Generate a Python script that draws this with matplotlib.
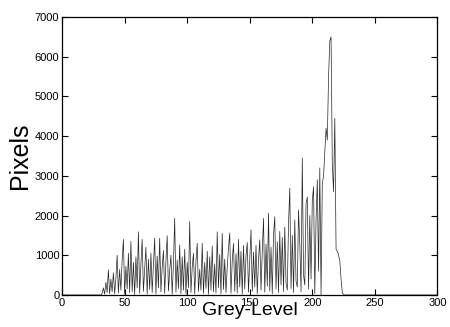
import numpy as np
import matplotlib
matplotlib.use("Agg")
import matplotlib.pyplot as plt

# grey-level histogram, counts for levels 30..225
first_level = 30
pixel_counts = [
    0, 0, 40, 180, 20, 320, 60, 630, 30, 400,
    80, 560, 30, 420, 1000, 50, 640, 120, 880, 1400,
    20, 720, 150, 1050, 60, 1350, 80, 820, 10, 960,
    180, 1590, 40, 780, 1400, 90, 650, 1200, 20, 900,
    140, 1050, 60, 720, 1430, 30, 980, 180, 1430, 80,
    700, 1120, 40, 860, 1490, 100, 620, 1000, 20, 780,
    1930, 70, 880, 160, 1260, 30, 960, 120, 1150, 20,
    820, 180, 1850, 60, 700, 1050, 30, 860, 1300, 90,
    640, 120, 1300, 40, 820, 160, 1100, 20, 960, 120,
    1230, 80, 780, 50, 1590, 180, 1020, 30, 1550, 140,
    900, 60, 700, 1180, 1560, 40, 860, 1300, 90, 1040,
    50, 1400, 200, 1100, 20, 1250, 150, 980, 1320, 70,
    900, 1640, 90, 1080, 200, 1250, 30, 880, 1390, 120,
    1100, 1930, 70, 1280, 220, 2060, 100, 1200, 30, 1500,
    1970, 150, 1340, 60, 1600, 250, 1450, 90, 1710, 300,
    120, 1800, 2690, 160, 1500, 60, 1890, 350, 200, 2140,
    1300, 80, 3450, 500, 250, 2300, 2470, 150, 2000, 400,
    2390, 2720, 30, 1900, 2900, 600, 3200, 0, 2800, 3000,
    3600, 4200, 3900, 5500, 6400, 6500, 3300, 2600, 4450, 1150,
    1100, 1000, 850, 400, 50, 0,
]

levels = np.arange(0, 301)
counts = np.zeros(len(levels))
counts[first_level:first_level + len(pixel_counts)] = pixel_counts

fig = plt.figure(figsize=(4.5, 3.27), dpi=100)
ax = fig.add_axes([0.138, 0.098, 0.834, 0.850])

ax.plot(levels, counts, color="0.15", linewidth=0.5)

ax.set_xlim(0, 300)
ax.set_ylim(0, 7000)
ax.set_xticks(range(0, 301, 50))
ax.set_yticks(range(0, 7001, 1000))
ax.tick_params(direction="in", top=True, right=True, labelsize=8, pad=2,
               length=4, width=0.8)
for label in ax.get_xticklabels() + ax.get_yticklabels():
    label.set_family("Liberation Sans")
for spine in ax.spines.values():
    spine.set_linewidth(0.9)

ax.set_xlabel("Grey-Level", family="Liberation Sans", fontsize=14, labelpad=-4)
ax.set_ylabel("Pixels", family="Liberation Sans", fontsize=18, labelpad=2)

fig.savefig("out.png", dpi=100)
